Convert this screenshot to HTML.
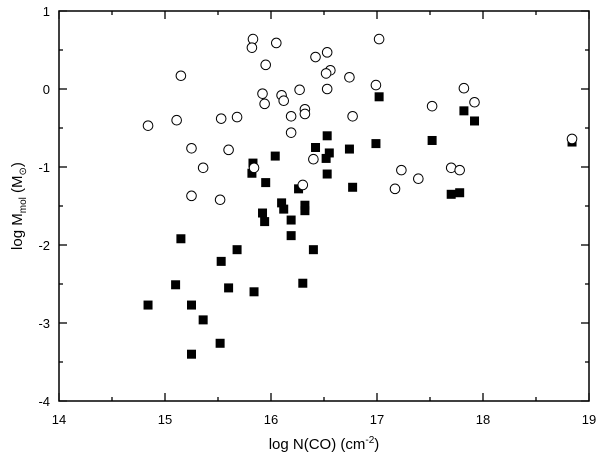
<!DOCTYPE html>
<html><head><meta charset="utf-8"><style>body{margin:0;background:#fff}svg{display:block;font-family:"Liberation Sans",sans-serif}</style></head>
<body>
<svg id="chart" width="600" height="468">
<rect x="59" y="11" width="530" height="390" fill="none" stroke="#000" stroke-width="1.5"/>
<g id="axes"></g><g id="marks"></g>
<text x="324" y="449" text-anchor="middle" font-size="15">log N(CO) (cm<tspan dy="-6" font-size="10">-2</tspan><tspan dy="6">)</tspan></text>
<text transform="translate(22,206) rotate(-90)" text-anchor="middle" font-size="15">log M<tspan dy="4" font-size="10">mol</tspan><tspan dy="-4"> (M</tspan><tspan dy="4" font-size="10">⊙</tspan><tspan dy="-4">)</tspan></text>
</svg>
<script>
const xTicks=[14,15,16,17,18,19];
const yTicks=[1,0,-1,-2,-3,-4];
const circX=[15.83,15.82,16.05,15.95,15.15,15.92,15.94,16.10,16.12,16.27,16.32,16.32,16.19,16.19,14.84,15.11,15.53,15.68,15.25,15.60,15.36,16.40,15.84,16.30,15.25,15.52,17.02,16.42,16.53,16.56,16.52,16.74,16.53,16.99,16.77,17.82,17.92,17.52,18.84,17.23,17.39,17.70,17.78,17.17];
const circY=[0.64,0.53,0.59,0.31,0.17,-0.06,-0.19,-0.08,-0.15,-0.01,-0.26,-0.32,-0.35,-0.56,-0.47,-0.40,-0.38,-0.36,-0.76,-0.78,-1.01,-0.90,-1.01,-1.23,-1.37,-1.42,0.64,0.41,0.47,0.24,0.20,0.15,0.00,0.05,-0.35,0.01,-0.17,-0.22,-0.64,-1.04,-1.15,-1.01,-1.04,-1.28];
const sqX=[17.02,17.82,17.92,17.52,18.84,16.53,16.42,16.55,16.52,16.74,16.99,16.53,16.77,17.70,17.78,16.04,15.83,15.82,15.95,16.26,16.10,16.12,16.32,16.32,15.92,15.94,16.19,16.19,16.40,15.68,15.15,15.53,15.10,15.60,15.84,16.30,14.84,15.25,15.36,15.52,15.25];
const sqY=[-0.10,-0.28,-0.41,-0.66,-0.68,-0.60,-0.75,-0.82,-0.89,-0.77,-0.70,-1.09,-1.26,-1.35,-1.33,-0.86,-0.95,-1.08,-1.20,-1.28,-1.46,-1.54,-1.49,-1.56,-1.59,-1.70,-1.68,-1.88,-2.06,-2.06,-1.92,-2.21,-2.51,-2.55,-2.60,-2.49,-2.77,-2.77,-2.96,-3.26,-3.40];
const sx=v=>59+(v-14)*106, sy=v=>11+(1-v)*78;
const NS='http://www.w3.org/2000/svg';
const ax=document.getElementById('axes'), mk=document.getElementById('marks');
function el(t,a,p){const e=document.createElementNS(NS,t);for(const k in a)e.setAttribute(k,a[k]);p.appendChild(e);return e;}
for(let v=14;v<=19.001;v+=0.5){const x=sx(v),L=Number.isInteger(v)?8:4;
 const t1=el('line',{x1:x,x2:x,y1:401,y2:401-L,stroke:'#000','stroke-width':1.3},ax);
 
 const t2=el('line',{x1:x,x2:x,y1:11,y2:11+L,stroke:'#000','stroke-width':1.3},ax);
 }
for(let v=-4;v<=1.001;v+=0.5){const y=sy(v),L=Number.isInteger(v)?8:4;
 const t1=el('line',{x1:59,x2:59+L,y1:y,y2:y,stroke:'#000','stroke-width':1.3},ax);
 
 const t2=el('line',{x1:589,x2:589-L,y1:y,y2:y,stroke:'#000','stroke-width':1.3},ax);
 }
xTicks.forEach(v=>{const t=el('text',{x:sx(v),y:424,'text-anchor':'middle','font-size':13},ax);t.textContent=v;
 });
yTicks.forEach(v=>{const t=el('text',{x:50,y:sy(v)+5,'text-anchor':'end','font-size':13},ax);t.textContent=v;
 });
sqX.forEach((v,i)=>{const r=el('rect',{x:sx(v)-4.5,y:sy(sqY[i])-4.5,width:9,height:9,fill:'#000'},mk);
 });
circX.forEach((v,i)=>{const c=el('circle',{cx:sx(v),cy:sy(circY[i]),r:4.8,fill:'#fff',stroke:'#000','stroke-width':1},mk);
 });
</script>
</body></html>
